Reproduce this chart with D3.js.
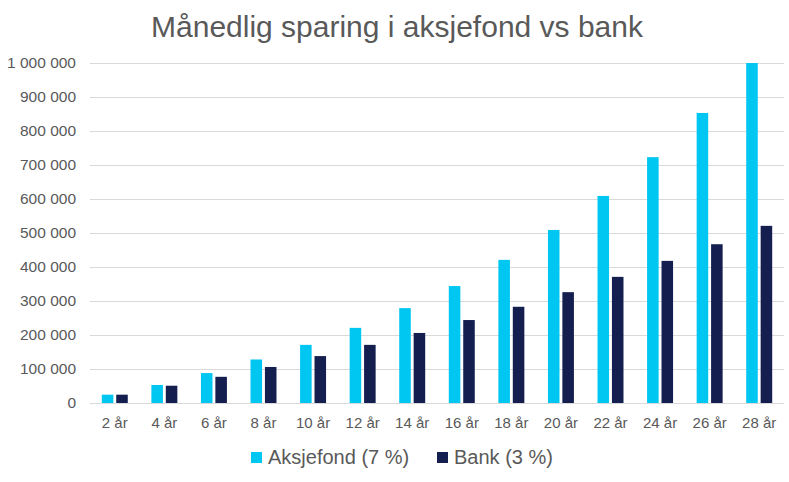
<!DOCTYPE html>
<meta charset="utf-8">
<style>
body { margin: 0; background: #fff; }
text { font-family: "Liberation Sans", Arial, sans-serif; fill: #595959; }
.grid line { stroke: #d9d9d9; shape-rendering: crispEdges; }
</style>
<svg class="chart"></svg>
<script src="https://d3js.org/d3.v7.min.js"></script>
<script>

var categories = ["2 år", "4 år", "6 år", "8 år", "10 år", "12 år", "14 år",
                  "16 år", "18 år", "20 år", "22 år", "24 år", "26 år", "28 år"];
var seriesNames = ["Aksjefond (7 %)", "Bank (3 %)"];
var aksjefond = [24500, 53000, 88000, 128000, 171000, 221000, 279000,
                 344000, 421000, 509000, 609000, 723000, 853000, 1000000];
var bank = [24500, 50800, 77000, 106000, 138000, 171000, 206000,
            244000, 283000, 326000, 371000, 418000, 467000, 521000];
var yTicks = [0, 100000, 200000, 300000, 400000, 500000, 600000, 700000, 800000, 900000, 1000000];
var colors = ["#00c6f2", "#141f50"];

var W = 789, H = 482;
var margin = {top: 63, right: 5, bottom: 79, left: 90},
    width = W - margin.left - margin.right,
    height = H - margin.top - margin.bottom;

var svg = d3.select(".chart")
    .attr("width", W)
    .attr("height", H);

var x0 = d3.scaleBand()
    .domain(categories)
    .range([0, width])
    .paddingInner(0.476)
    .paddingOuter(0.238);

var x1 = d3.scaleBand()
    .domain(seriesNames)
    .range([0, x0.bandwidth()])
    .paddingInner(0.2);

var y = d3.scaleLinear()
    .domain([0, 1000000])
    .range([height, 0]);

var fmt = function (d) { return d3.format(",")(d).replace(/,/g, " "); };

var chart = svg.append("g")
    .attr("transform", "translate(" + margin.left + "," + margin.top + ")");

// gridlines
chart.append("g")
    .attr("class", "grid")
    .selectAll("line")
    .data(yTicks)
  .enter().append("line")
    .attr("x1", 0)
    .attr("x2", width)
    .attr("y1", function (d) { return Math.round(y(d)) + 0.5; })
    .attr("y2", function (d) { return Math.round(y(d)) + 0.5; });

// y axis labels
var yAxis = d3.axisLeft(y).tickValues(yTicks).tickFormat(fmt).tickSize(0).tickPadding(14);
chart.append("g")
    .call(yAxis)
    .call(function (g) { g.select(".domain").remove(); })
    .selectAll("text")
    .style("font-size", "15.5px")
    .attr("fill", "#595959");

// x axis labels
var xAxis = d3.axisBottom(x0).tickSize(0).tickPadding(14);
chart.append("g")
    .attr("transform", "translate(0," + height + ")")
    .call(xAxis)
    .call(function (g) { g.select(".domain").remove(); })
    .selectAll("text")
    .style("font-size", "15px")
    .attr("fill", "#595959");

var rows = categories.map(function (c, i) {
  return {cat: c, values: [aksjefond[i], bank[i]]};
});

var group = chart.selectAll(".group")
    .data(rows)
  .enter().append("g")
    .attr("class", "group")
    .attr("transform", function (d) { return "translate(" + x0(d.cat) + ",0)"; });

group.selectAll("rect")
    .data(function (d) { return d.values.map(function (v, j) { return {name: seriesNames[j], value: v, j: j}; }); })
  .enter().append("rect")
    .attr("x", function (d) { return x1(d.name); })
    .attr("y", function (d) { return y(d.value); })
    .attr("width", x1.bandwidth())
    .attr("height", function (d) { return height - y(d.value); })
    .attr("fill", function (d) { return colors[d.j]; });

// title
svg.append("text")
    .attr("x", 397)
    .attr("y", 37)
    .attr("text-anchor", "middle")
    .style("font-size", "30px")
    .text("Månedlig sparing i aksjefond vs bank");

// legend
var legendX = [251, 437];
var legend = svg.selectAll(".legend")
    .data(seriesNames)
  .enter().append("g")
    .attr("class", "legend")
    .attr("transform", function (d, i) { return "translate(" + legendX[i] + ",452)"; });

legend.append("rect")
    .attr("width", 11)
    .attr("height", 11)
    .attr("fill", function (d, i) { return colors[i]; });

legend.append("text")
    .attr("x", 17)
    .attr("y", 12)
    .style("font-size", "20px")
    .text(function (d) { return d; });

</script>
